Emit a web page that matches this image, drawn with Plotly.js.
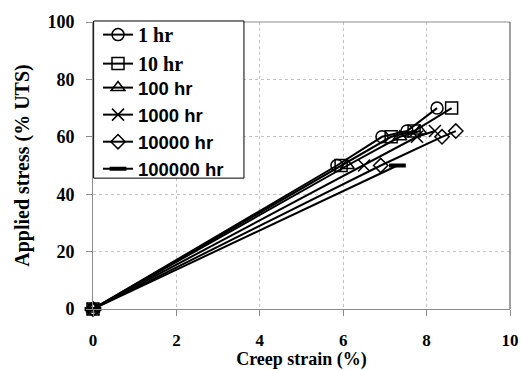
<!DOCTYPE html>
<html>
<head>
<meta charset="utf-8">
<script src="https://cdn.plot.ly/plotly-3.0.1.min.js"></script>
<style>
  html, body { margin: 0; padding: 0; background: #fff; }
  #chart { width: 522px; height: 370px; }
</style>
</head>
<body>
<div id="chart"></div>
<script>
// Creep curves: applied stress vs creep strain for each rupture time
const seriesNames = ["1 hr", "10 hr", "100 hr", "1000 hr", "10000 hr", "100000 hr"];

const strain1hr      = [0, 5.85, 6.93, 7.53, 8.25];
const stress1hr      = [0, 50, 60, 62, 70];
const strain10hr     = [0, 5.95, 7.15, 7.70, 8.60];
const stress10hr     = [0, 50, 60, 62, 70];
const strain100hr    = [0, 6.10, 7.36, 7.84];
const stress100hr    = [0, 50, 60, 62];
const strain1000hr   = [0, 6.50, 7.77, 8.20];
const stress1000hr   = [0, 50, 60, 62];
const strain10000hr  = [0, 6.90, 8.37, 8.70];
const stress10000hr  = [0, 50, 60, 62];
const strain100000hr = [0, 7.30];
const stress100000hr = [0, 50];

const xTicks = [0, 2, 4, 6, 8, 10];
const yTicks = [0, 20, 40, 60, 80, 100];

const serif = "Liberation Serif";
const sans = "Liberation Sans";

const xs = [strain1hr, strain10hr, strain100hr, strain1000hr, strain10000hr, strain100000hr];
const ys = [stress1hr, stress10hr, stress100hr, stress1000hr, stress10000hr, stress100000hr];
const symbols = ["circle-open", "square-open", "triangle-up-open", "x-thin-open", "diamond-open", "line-ew-open"];
const msizes = [12, 12, 12, 12, 11, 12];
const mwidths = [1.5, 1.5, 1.5, 1.5, 1.5, 4];

// the first two entries sit in a serif-set legend, the rest in a sans-set one
const traces = seriesNames.map((n, i) => ({
  type: "scatter",
  mode: "lines+markers",
  name: n,
  legend: i < 2 ? "legend" : "legend2",
  x: xs[i],
  y: ys[i],
  line: { color: "#000", width: 2 },
  marker: {
    symbol: symbols[i],
    size: msizes[i],
    color: "#000",
    line: { color: "#000", width: mwidths[i] }
  },
  cliponaxis: false
}));

const legendCommon = {
  xanchor: "left", yanchor: "top",
  bgcolor: "rgba(0,0,0,0)",
  borderwidth: 0,
  tracegroupgap: 0,
  itemwidth: 30
};

const layout = {
  width: 522,
  height: 370,
  margin: { l: 93, r: 12, t: 22, b: 61 },
  paper_bgcolor: "#fff",
  plot_bgcolor: "#fff",
  showlegend: true,
  legend: Object.assign({}, legendCommon, {
    x: 0.012, y: 1.024,
    font: { family: serif, size: 20, color: "#000", weight: "bold" }
  }),
  legend2: Object.assign({}, legendCommon, {
    x: 0.012, y: 0.836,
    font: { family: sans, size: 18.5, color: "#000", weight: "bold" }
  }),
  xaxis: {
    range: [0, 10],
    tickvals: xTicks,
    ticktext: xTicks.map(String),
    showgrid: true,
    gridcolor: "#c4c4c4",
    griddash: "dot",
    gridwidth: 1,
    zeroline: false,
    showline: true,
    linecolor: "#8c8c8c",
    linewidth: 1,
    ticks: "outside",
    ticklen: 6,
    tickcolor: "#8c8c8c",
    ticklabelstandoff: 10,
    tickfont: { family: serif, size: 17, color: "#000", weight: "bold" },
    title: {
      text: "Creep strain (%)",
      font: { family: serif, size: 18, color: "#000", weight: "bold" },
      standoff: 7
    }
  },
  yaxis: {
    range: [0, 100],
    tickvals: yTicks,
    ticktext: yTicks.map(String),
    showgrid: true,
    gridcolor: "#c4c4c4",
    griddash: "dot",
    gridwidth: 1,
    zeroline: false,
    showline: true,
    linecolor: "#8c8c8c",
    linewidth: 1,
    ticks: "outside",
    ticklen: 6,
    tickcolor: "#8c8c8c",
    ticklabelstandoff: 8,
    tickfont: { family: serif, size: 18, color: "#000", weight: "bold" },
    title: {
      text: "Applied stress (% UTS)",
      font: { family: serif, size: 20, color: "#000", weight: "bold" },
      standoff: 12
    }
  },
  shapes: [
    // plot-area frame: top and right edges
    { type: "line", xref: "paper", yref: "paper", x0: 0, x1: 1, y0: 1, y1: 1,
      line: { color: "#8c8c8c", width: 1 } },
    { type: "line", xref: "paper", yref: "paper", x0: 1, x1: 1, y0: 0, y1: 1,
      line: { color: "#404040", width: 1 } },
    // single box enclosing both legend blocks
    { type: "rect", xref: "paper", yref: "paper", layer: "above",
      x0: 0.0015, x1: 0.362, y0: 0.456, y1: 1.0035,
      fillcolor: "#fff", line: { color: "#000", width: 1 } }
  ]
};

Plotly.newPlot("chart", traces, layout, { displayModeBar: false, staticPlot: true });
</script>
</body>
</html>
